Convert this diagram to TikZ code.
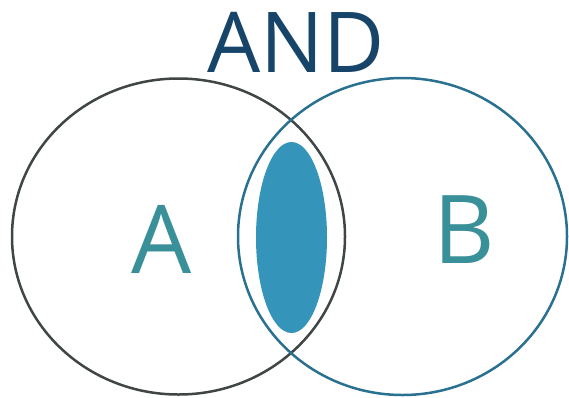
\documentclass[tikz,border=0pt]{standalone}
\usepackage{fontspec}
\setmainfont{Open Sans}
\definecolor{andblue}{HTML}{17456A}
\definecolor{letterteal}{HTML}{3A9098}
\definecolor{fillblue}{HTML}{3494BA}
\definecolor{leftgray}{HTML}{404545}
\definecolor{rightblue}{HTML}{2A7090}
\tikzset{
  ring/.style={line width=2.5pt},
  letter/.style={anchor=base, inner sep=0pt, text=letterteal, font=\fontsize{95}{95}\selectfont},
}
\begin{document}
\begin{tikzpicture}[x=1pt,y=-1pt]
\useasboundingbox (0,0) rectangle (569,397);
\fill[fillblue] (291.5,237.5) ellipse [x radius=35.5, y radius=95.5];
\draw[ring, leftgray] (178.5,236.5) ellipse [x radius=166.5, y radius=158];
\draw[ring, rightblue] (402.5,236.5) ellipse [x radius=164.5, y radius=158.5];
\node[anchor=base, inner sep=0pt, text=andblue, font=\fontsize{84}{84}\selectfont] (and) at (296,72) {AND};
\node[letter] (a) at (162,273) {A};
\node[letter] (b) at (464,263) {B};
\end{tikzpicture}
\end{document}
